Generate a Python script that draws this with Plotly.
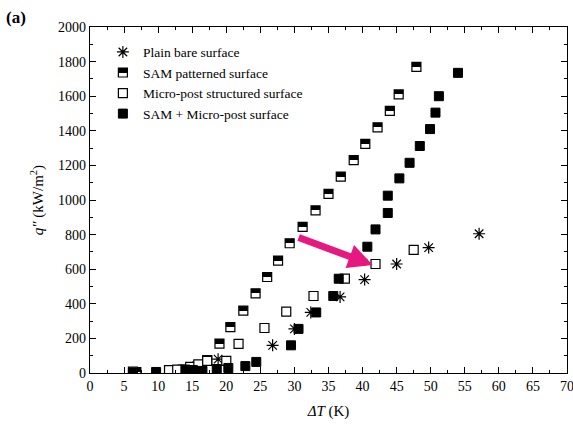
import plotly.graph_objects as go

# ---- data ----
plain_x = [18.8, 26.8, 30.0, 32.4, 36.7, 40.3, 45.0, 49.7, 57.1]
plain_y = [80, 160, 255, 350, 440, 540, 630, 725, 805]

sam_x = [6.8, 11.6, 13.6, 14.8, 15.8, 17.2, 19.0, 20.6, 22.5, 24.3, 26.0, 27.6,
         29.3, 31.2, 33.1, 35.0, 36.8, 38.7, 40.4, 42.2, 44.0, 45.3, 47.9]
sam_y = [5, 12, 20, 30, 40, 75, 170, 265, 360, 460, 555, 650,
         750, 845, 940, 1035, 1135, 1230, 1325, 1420, 1515, 1610, 1770]

micro_x = [6.3, 11.6, 12.8, 14.7, 15.9, 17.2, 20.0, 21.8, 25.6, 28.8, 32.8, 37.4, 41.9, 47.5]
micro_y = [8, 17, 20, 35, 50, 70, 70, 168, 260, 355, 445, 545, 630, 712]

combo_x = [6.3, 9.7, 14.0, 15.1, 16.5, 18.6, 20.3, 22.8, 24.4, 29.5, 30.6, 33.2, 35.7,
           36.5, 40.7, 41.9, 43.7, 43.7, 45.4, 46.9, 48.4, 49.9, 50.7, 51.2, 54.0]
combo_y = [3, 6, 20, 17, 12, 23, 29, 40, 64, 160, 255, 350, 445,
           545, 730, 830, 925, 1025, 1125, 1215, 1312, 1410, 1505, 1600, 1735]

names = ["Plain bare surface", "SAM patterned surface",
         "Micro-post structured surface", "SAM + Micro-post surface"]

x_ticks = list(range(0, 71, 5))
y_ticks = list(range(0, 2001, 200))

# arrow annotation (tail -> tip), in data units
arrow_tail = (30.4, 786)
arrow_tip = (41.5, 624)

FONT = "Liberation Serif, Times New Roman, serif"

fig = go.Figure()
fig.add_trace(go.Scatter(
    x=plain_x, y=plain_y, mode="markers", name=names[0],
    marker=dict(symbol="asterisk-open", size=10, color="black",
                line=dict(color="#222", width=1.2))))
fig.add_trace(go.Scatter(
    x=sam_x, y=sam_y, mode="markers", name=names[1],
    marker=dict(symbol="square", size=9, color="black",
                gradient=dict(type="vertical", color="white"),
                line=dict(color="black", width=1.2))))
fig.add_trace(go.Scatter(
    x=micro_x, y=micro_y, mode="markers", name=names[2],
    marker=dict(symbol="square", size=9, color="white",
                line=dict(color="black", width=1.2))))
fig.add_trace(go.Scatter(
    x=combo_x, y=combo_y, mode="markers", name=names[3],
    marker=dict(symbol="square", size=9, color="black",
                line=dict(color="black", width=1))))

fig.add_annotation(
    x=arrow_tip[0], y=arrow_tip[1], ax=arrow_tail[0], ay=arrow_tail[1],
    xref="x", yref="y", axref="x", ayref="y", text="", showarrow=True,
    arrowhead=2, arrowsize=0.7, arrowwidth=7, arrowcolor="#E5197F", standoff=0)

fig.add_annotation(
    text="<b>(a)</b>", xref="paper", yref="paper", x=-0.18, y=1.0,
    xanchor="left", yanchor="bottom", showarrow=False,
    font=dict(family=FONT, size=17, color="black"), yshift=-2)

axis_common = dict(
    showline=True, linecolor="black", linewidth=1.2, mirror="ticks",
    ticks="inside", ticklen=6, tickwidth=1.2, tickcolor="black",
    showgrid=False, zeroline=False, ticklabeloverflow="allow",
    tickfont=dict(family=FONT, size=14, color="black"),
)

fig.update_xaxes(
    range=[0, 70], tickvals=x_ticks,
    minor=dict(ticks="inside", ticklen=3, dtick=2.5, tickcolor="black", tickwidth=1.2),
    title=dict(text="<i>ΔT</i> (K)", font=dict(family=FONT, size=15, color="black"),
               standoff=12),
    **axis_common)
fig.update_yaxes(
    range=[0, 2000], tickvals=y_ticks,
    minor=dict(ticks="inside", ticklen=3, dtick=100, tickcolor="black", tickwidth=1.2),
    title=dict(text="<i>q″</i> (kW/m<sup>2</sup>)", font=dict(family=FONT, size=15, color="black"),
               standoff=10),
    **axis_common)

fig.update_layout(
    template="none",
    width=573, height=426,
    margin=dict(l=90, r=6, t=27, b=53),
    paper_bgcolor="white", plot_bgcolor="white",
    font=dict(family=FONT, color="black"),
    legend=dict(x=0.027, y=0.972, xanchor="left", yanchor="top",
                bgcolor="rgba(0,0,0,0)", font=dict(family=FONT, size=13.5, color="black"),
                tracegroupgap=0, itemwidth=30),
    showlegend=True,
)

post = """
document.body.style.margin='0px';
document.body.style.overflow='hidden';
document.querySelectorAll('linearGradient').forEach(function(g){
  var stops = g.querySelectorAll('stop');
  if (stops.length === 2) {
    var a = stops[0].cloneNode(); a.setAttribute('offset','50%');
    var b = stops[1].cloneNode(); b.setAttribute('offset','50%');
    g.insertBefore(a, stops[1]); g.insertBefore(b, stops[1]);
  }
});
"""

fig.write_html("out.html", post_script=post, config={"displayModeBar": False})
